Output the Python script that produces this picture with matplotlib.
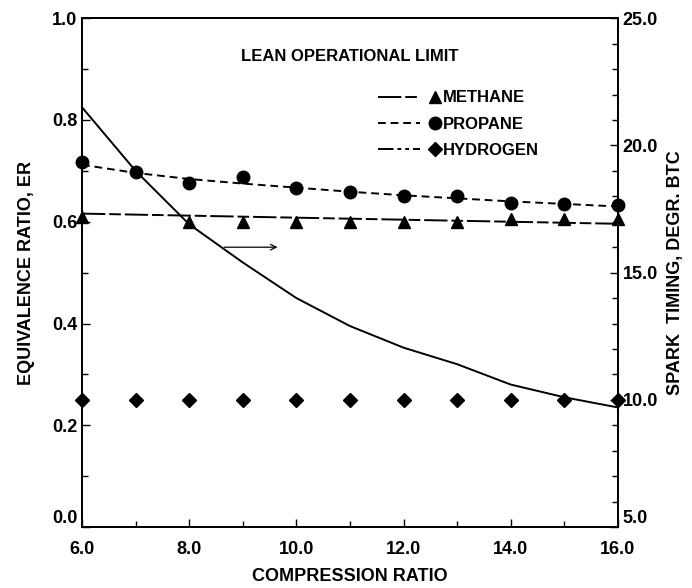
import matplotlib
matplotlib.use("Agg")
import matplotlib.pyplot as plt
from matplotlib.ticker import MultipleLocator, FormatStrFormatter
from matplotlib.lines import Line2D
from matplotlib.legend_handler import HandlerBase

plt.rcParams['font.family'] = ['Liberation Sans Narrow', 'Liberation Sans', 'DejaVu Sans']
plt.rcParams['font.weight'] = 'bold'
plt.rcParams['axes.labelweight'] = 'bold'

cr = [6, 7, 8, 9, 10, 11, 12, 13, 14, 15, 16]
cr_methane = [6, 8, 9, 10, 11, 12, 13, 14, 15, 16]
er_methane = [0.61, 0.60, 0.60, 0.60, 0.60, 0.60, 0.60, 0.605, 0.605, 0.605]
methane_fit_x = [6, 16]
methane_fit_y = [0.616, 0.596]
er_propane = [0.718, 0.698, 0.676, 0.688, 0.667, 0.659, 0.65, 0.65, 0.636, 0.634, 0.632]
propane_fit_y = [0.712, 0.696, 0.684, 0.675, 0.667, 0.659, 0.652, 0.646, 0.640, 0.635, 0.630]
er_hydrogen = [0.25, 0.25, 0.25, 0.25, 0.25, 0.25, 0.25, 0.25, 0.25, 0.25, 0.25]
spark_timing = [21.5, 19.0, 16.9, 15.4, 14.0, 12.9, 12.05, 11.4, 10.6, 10.1, 9.7]
labels = ['METHANE', 'PROPANE', 'HYDROGEN']

methane_ls = (0, (12, 2, 6, 2))
propane_ls = (0, (4, 2.5))
hydrogen_ls = (0, (8, 2, 2, 2, 2, 2))

fig = plt.figure(figsize=(6.92, 5.88), dpi=100)
ax = fig.add_axes([0.1185, 0.1037, 0.7745, 0.8653])
ax2 = ax.twinx()

ax.plot(methane_fit_x, methane_fit_y, color='black', lw=1.4, ls=methane_ls, clip_on=False)
ax.plot(cr_methane, er_methane, ls='none', marker='^', ms=8, color='black', clip_on=False)
ax.plot(cr, propane_fit_y, color='black', lw=1.4, ls=propane_ls, clip_on=False)
ax.plot(cr, er_propane, ls='none', marker='o', ms=9, color='black', clip_on=False)
ax.plot(cr, er_hydrogen, ls='none', marker='D', ms=7, color='black', clip_on=False)
ax2.plot(cr, spark_timing, color='black', lw=1.4, clip_on=False)

ax.set_xlim(6, 16)
ax.set_ylim(0, 1.0)
ax2.set_ylim(5, 25)

ax.xaxis.set_major_locator(MultipleLocator(2))
ax.xaxis.set_minor_locator(MultipleLocator(1))
ax.yaxis.set_major_locator(MultipleLocator(0.2))
ax.yaxis.set_minor_locator(MultipleLocator(0.1))
ax2.yaxis.set_major_locator(MultipleLocator(5))
ax2.yaxis.set_minor_locator(MultipleLocator(1))
ax.xaxis.set_major_formatter(FormatStrFormatter('%.1f'))
ax.yaxis.set_major_formatter(FormatStrFormatter('%.1f'))
ax2.yaxis.set_major_formatter(FormatStrFormatter('%.1f'))

for a in (ax, ax2):
    a.tick_params(which='both', direction='in', labelsize=13, width=1.0)
    a.tick_params(which='major', length=6)
    a.tick_params(which='minor', length=4)
    for s in a.spines.values():
        s.set_linewidth(1.4)

ax.tick_params(axis='x', pad=10)
ax.set_xlabel('COMPRESSION RATIO', fontsize=13, labelpad=7)
ax.set_ylabel('EQUIVALENCE RATIO, ER', fontsize=13, labelpad=12)
ax2.set_ylabel('SPARK  TIMING, DEGR. BTC', fontsize=13, labelpad=6)

ax.text(11.0, 0.925, 'LEAN OPERATIONAL LIMIT', ha='center', va='center', fontsize=12)

ax.annotate('', xy=(9.7, 0.55), xytext=(8.6, 0.55),
            arrowprops=dict(arrowstyle='->', color='black', lw=0.9))

style_by_label = {'METHANE': methane_ls, 'PROPANE': propane_ls, 'HYDROGEN': hydrogen_ls}


class LineThenMarker(HandlerBase):
    def create_artists(self, legend, orig, xdescent, ydescent, width, height, fontsize, trans):
        y = height / 2 - ydescent
        x0 = -xdescent
        line = Line2D([x0, x0 + width * 0.66], [y, y], color='black', lw=1.4,
                      ls=style_by_label[orig.get_label()])
        mk = Line2D([x0 + width * 0.9], [y], ls='none', marker=orig.get_marker(),
                    ms=orig.get_markersize(), color='black')
        line.set_transform(trans)
        mk.set_transform(trans)
        return [line, mk]


handles = [
    Line2D([], [], color='black', marker='^', ms=8, label=labels[0]),
    Line2D([], [], color='black', marker='o', ms=9, label=labels[1]),
    Line2D([], [], color='black', marker='D', ms=7, label=labels[2]),
]
leg = ax.legend(handles, labels, loc='upper left',
                bbox_to_anchor=(0.552, 0.858), frameon=False, fontsize=12,
                handlelength=3.8, handletextpad=0.1, labelspacing=0.68,
                borderpad=0, borderaxespad=0,
                handler_map={Line2D: LineThenMarker()})

fig.canvas.draw()
for tick in ax.yaxis.get_major_ticks():
    if abs(tick.get_loc()) < 1e-9:
        tick.label1.set_verticalalignment('bottom')
for tick in ax2.yaxis.get_major_ticks():
    if abs(tick.get_loc() - 5) < 1e-9:
        tick.label2.set_verticalalignment('bottom')

fig.savefig('out.png', dpi=100)
